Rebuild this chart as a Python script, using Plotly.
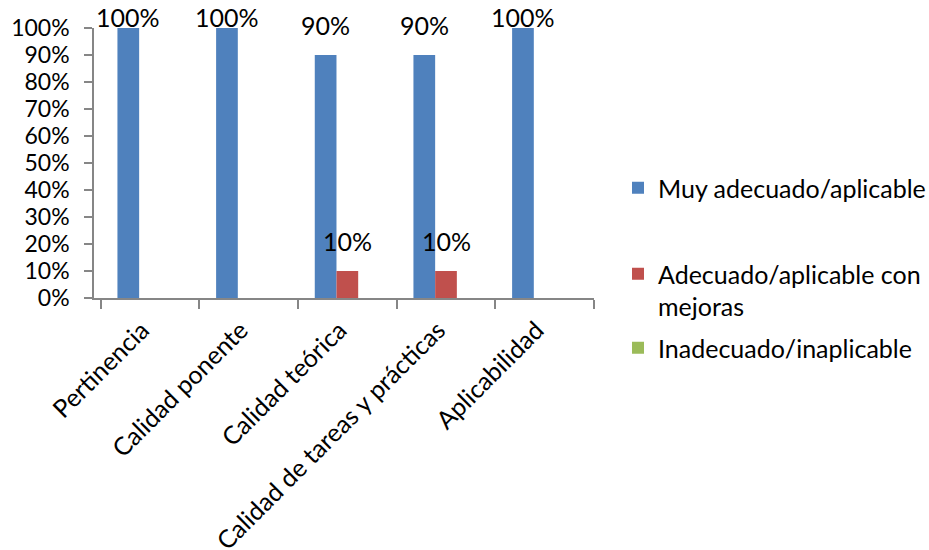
import plotly.graph_objects as go

categories = ["Pertinencia", "Calidad ponente", "Calidad teórica",
              "Calidad de tareas y prácticas", "Aplicabilidad"]
series_names = ["Muy adecuado/aplicable",
                "Adecuado/aplicable con<br>mejoras",
                "Inadecuado/inaplicable"]
muy_adecuado = [100, 100, 90, 90, 100]
adecuado_mejoras = [0, 0, 10, 10, 0]
inadecuado = [0, 0, 0, 0, 0]
y_ticks = [0, 10, 20, 30, 40, 50, 60, 70, 80, 90, 100]
y_tick_labels = [f"{t}%" for t in y_ticks]

colors = ["#4F81BD", "#C0504D", "#9BBB59"]
FONT = "Lato"
FS = 25
W, H = 929, 550

series_values = [muy_adecuado, adecuado_mejoras, inadecuado]
legend_ids = ["legend", "legend2", "legend3"]

fig = go.Figure()
for name, vals, col, lg in zip(series_names, series_values, colors, legend_ids):
    fig.add_trace(go.Bar(x=categories, y=vals, name=name,
                         marker=dict(color=col, line=dict(width=0)),
                         legend=lg, showlegend=True))

# data labels (Excel style: shown for non-zero values, kept inside the plot area)
offsets = [-22, 0, 22]
for vals, dx in zip(series_values, offsets):
    for cat, v in zip(categories, vals):
        if v == 0:
            continue
        fig.add_annotation(x=cat, y=min(v + 7, 100), xref="x", yref="y",
                           text=f"{v}%", showarrow=False,
                           xanchor="center", yanchor="bottom",
                           xshift=dx, yshift=-6,
                           font=dict(family=FONT, size=FS, color="#000000"))

axis_col = "#868686"
legend_font = dict(family=FONT, size=FS, color="#000000")
fig.update_layout(
    width=W, height=H,
    showlegend=True,
    margin=dict(l=94, r=335, t=28, b=252, pad=0, autoexpand=False),
    paper_bgcolor="white", plot_bgcolor="white",
    barmode="group", bargap=0.34, bargroupgap=0,
    font=dict(family=FONT, size=FS, color="#000000"),
    xaxis=dict(showline=True, linecolor=axis_col, linewidth=1.5,
               ticks="outside", tickson="boundaries", ticklen=9,
               tickcolor=axis_col, tickwidth=1.5, automargin=False,
               tickangle=-45, showgrid=False, zeroline=False,
               ticklabelstandoff=6, ticklabelshift=-8,
               tickfont=dict(family=FONT, size=FS, color="#000000")),
    yaxis=dict(range=[0, 100], tickmode="array", tickvals=y_ticks,
               ticktext=y_tick_labels, automargin=False,
               showline=True, linecolor=axis_col, linewidth=1.5,
               ticks="outside", ticklen=8, tickcolor=axis_col, tickwidth=1.5,
               ticklabelstandoff=10,
               showgrid=False, zeroline=False,
               tickfont=dict(family=FONT, size=23, color="#000000")),
    legend=dict(visible=True, xref="container", yref="container",
                x=618 / W, y=1 - 188 / H,
                xanchor="left", yanchor="middle", bgcolor="rgba(0,0,0,0)",
                font=legend_font),
    legend2=dict(xref="container", yref="container", x=618 / W, y=1 - 251 / H,
                 xanchor="left", yanchor="top", valign="top",
                 bgcolor="rgba(0,0,0,0)", font=legend_font),
    legend3=dict(xref="container", yref="container", x=618 / W, y=1 - 348 / H,
                 xanchor="left", yanchor="middle", bgcolor="rgba(0,0,0,0)",
                 font=legend_font),
)

fig.write_html("out.html", config={"displayModeBar": False},
               post_script="document.body.style.margin='0';")
